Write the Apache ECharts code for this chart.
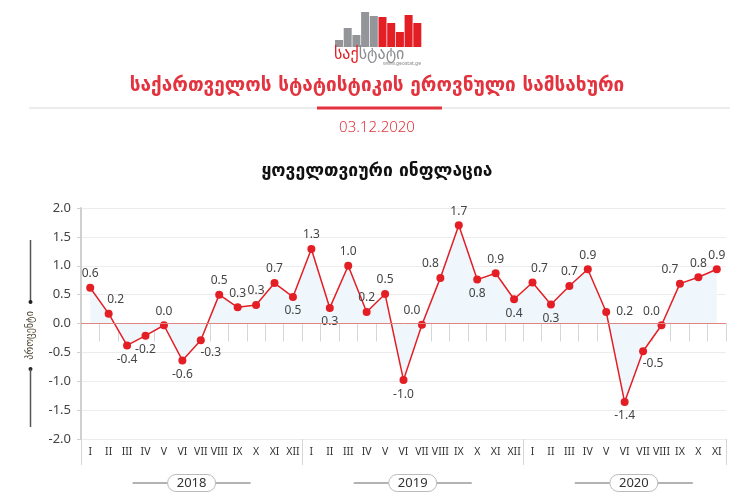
<!DOCTYPE html>
<html><head><meta charset="utf-8">
<script src="https://cdn.jsdelivr.net/npm/echarts@6/dist/echarts.min.js"></script>
<style>html,body{margin:0;padding:0;background:#fff}#c{width:753px;height:501px}</style>
</head><body><div id="c"></div>
<script>
// ---- data ----
const months = ['I','II','III','IV','V','VI','VII','VIII','IX','X','XI','XII',
                'I','II','III','IV','V','VI','VII','VIII','IX','X','XI','XII',
                'I','II','III','IV','V','VI','VII','VIII','IX','X','XI'];
const years = ['2018','2019','2020'];
const yearStart = [0, 12, 24];
const values = [0.62,0.17,-0.38,-0.21,-0.03,-0.64,-0.29,0.50,0.28,0.32,0.70,0.46,
                1.29,0.27,1.00,0.20,0.51,-0.98,-0.02,0.79,1.70,0.76,0.87,0.42,
                0.71,0.33,0.65,0.94,0.20,-1.36,-0.48,-0.03,0.69,0.80,0.94];
const labels = ['0.6','0.2','-0.4','-0.2','0.0','-0.6','-0.3','0.5','0.3','0.3','0.7','0.5',
                '1.3','0.3','1.0','0.2','0.5','-1.0','0.0','0.8','1.7','0.8','0.9','0.4',
                '0.7','0.3','0.7','0.9','0.2','-1.4','-0.5','0.0','0.7','0.8','0.9'];
const yTicks = [-2.0, 2.0, 0.5];
const labelPlace = ['t','tr','b','b','t','b','br','t','t','t','t','b',
                    't','b','t','t','t','b','tl','tl','t','b','t','b',
                    'tr','b','t','t','r','b','br','tl','tl','t','t'];

const RED = '#e31e24';
const GEO = '"DejaVu Sans", "Noto Sans", sans-serif';
const LAT = '"Noto Sans", "Open Sans", sans-serif';

function labelCfg(p){
  const base = {show:true, fontSize:12, color:'#444', fontFamily:LAT, distance:4};
  switch(p){
    case 't': return Object.assign(base,{position:'top'});
    case 'b': return Object.assign(base,{position:'bottom'});
    case 'tr': return Object.assign(base,{position:'top', offset:[7,0]});
    case 'tl': return Object.assign(base,{position:'top', offset:[-10,0]});
    case 'r': return Object.assign(base,{position:'right', distance:6});
    case 'br': return Object.assign(base,{position:'bottom', offset:[10,-2]});
  }
  return base;
}
const seriesData = values.map((v,i)=>({value:v, label:Object.assign(labelCfg(labelPlace[i]),{formatter:labels[i]})}));

// ---- static graphics ----
const logoBars = [
  {c:'#939598', t:40}, {c:'#939598', t:28}, {c:'#939598', t:35}, {c:'#939598', t:12}, {c:'#939598', t:16},
  {c:RED, t:17}, {c:RED, t:23}, {c:RED, t:32}, {c:RED, t:15}, {c:RED, t:23}
];
const staticGraphics = [];
logoBars.forEach((b,i)=>{
  staticGraphics.push({type:'rect', shape:{x:335+i*8.7, y:b.t, width:8, height:47-b.t}, style:{fill:b.c}, silent:true});
});
staticGraphics.push(
  {type:'text', x:334, y:55, style:{text:'{r|საქ}{g|სტატი}', rich:{r:{fill:RED,fontSize:16,fontFamily:GEO},g:{fill:'#8a8c8f',fontSize:16,fontFamily:GEO}}, verticalAlign:'middle'}},
  {type:'text', x:421, y:64, style:{text:'www.geostat.ge', fill:'#888', fontSize:5, fontFamily:LAT, align:'right', verticalAlign:'middle'}},
  {type:'text', x:377, y:86, style:{text:'საქართველოს სტატისტიკის ეროვნული სამსახური', fill:'#e2333f', fontSize:19, fontWeight:'bold', fontFamily:GEO, align:'center', verticalAlign:'middle'}},
  {type:'line', shape:{x1:29,y1:108,x2:730,y2:108}, style:{stroke:'#e6e6e6', lineWidth:1.5}},
  {type:'line', shape:{x1:317,y1:108,x2:442,y2:108}, style:{stroke:'#e2333f', lineWidth:3}},
  {type:'text', x:377, y:128, style:{text:'03.12.2020', fill:'#e2333f', fontSize:15, fontWeight:300, fontFamily:LAT, align:'center', verticalAlign:'middle'}},
  {type:'text', x:377, y:171, style:{text:'ყოველთვიური ინფლაცია', fill:'#111', fontSize:17.5, fontWeight:'bold', fontFamily:GEO, align:'center', verticalAlign:'middle'}},
  // y-axis name
  {type:'line', shape:{x1:30.5,y1:240,x2:30.5,y2:302}, style:{stroke:'#555', lineWidth:1.5}},
  {type:'circle', shape:{cx:30.5,cy:302,r:2}, style:{fill:'#222'}},
  {type:'circle', shape:{cx:30.5,cy:369,r:2}, style:{fill:'#222'}},
  {type:'line', shape:{x1:30.5,y1:369,x2:30.5,y2:427}, style:{stroke:'#555', lineWidth:1.5}},
  {type:'text', x:30.5, y:335.5, rotation:Math.PI/2, style:{text:'პროცენტი', fill:'#4a3f2a', fontSize:10, fontFamily:GEO, align:'center', verticalAlign:'middle'}}
);

const chart = echarts.init(document.getElementById('c'));
const option = {
  animation:false,
  backgroundColor:'#fff',
  grid:{left:81, right:27, top:208, bottom:62, containLabel:false},
  xAxis:[{
    type:'category', data:months, boundaryGap:true,
    axisLine:{show:true, lineStyle:{color:'#d0d0d0', width:1}},
    axisTick:{show:true, alignWithLabel:false, interval:0, length:18, lineStyle:{color:'#d6d6d6'}},
    axisLabel:{interval:0, fontSize:10.5, color:'#333', fontFamily:LAT, margin:8},
    splitLine:{show:false}
  },{
    type:'category', data:months, boundaryGap:true, position:'bottom',
    axisLine:{show:false},
    axisTick:{show:true, alignWithLabel:false, length:26, lineStyle:{color:'#d6d6d6'},
      interval:function(idx){ return yearStart.indexOf(idx) >= 0; }},
    axisLabel:{show:false}, splitLine:{show:false}
  }],
  yAxis:{
    type:'value', min:yTicks[0], max:yTicks[1], interval:yTicks[2],
    axisLine:{show:true, lineStyle:{color:'#d0d0d0', width:2}},
    axisTick:{show:true, length:4, lineStyle:{color:'#d0d0d0'}},
    axisLabel:{formatter:v=>v.toFixed(1), fontSize:13, color:'#444', fontFamily:LAT, margin:10},
    splitLine:{show:true, lineStyle:{color:'#ececec', width:1}}
  },
  series:[{
    type:'line', data:seriesData, xAxisIndex:0,
    symbol:'circle', symbolSize:8,
    itemStyle:{color:RED},
    lineStyle:{color:RED, width:1.5},
    areaStyle:{color:'#eff7fc', opacity:1, origin:0},
    z:3,
    markLine:{silent:true, symbol:'none', label:{show:false},
      lineStyle:{color:'#e08585', width:1, type:'solid'},
      data:[{yAxis:0}]}
  }],
  graphic:staticGraphics
};
chart.setOption(option);

// year labels positioned via the axis scale
const x0 = chart.convertToPixel({xAxisIndex:0}, 0);
const x1 = chart.convertToPixel({xAxisIndex:0}, 1);
const step = x1 - x0;
const yearG = [];
years.forEach((y,k)=>{
  const cx = chart.convertToPixel({xAxisIndex:0}, yearStart[k]) - step/2 + 6*step;
  const cy = 483;
  yearG.push(
    {type:'line', shape:{x1:cx-59,y1:cy,x2:cx-24,y2:cy}, style:{stroke:'#666', lineWidth:1}},
    {type:'line', shape:{x1:cx+24,y1:cy,x2:cx+59,y2:cy}, style:{stroke:'#666', lineWidth:1}},
    {type:'rect', shape:{x:cx-24,y:cy-8.5,width:48,height:17,r:8.5}, style:{fill:'#fff', stroke:'#bbb', lineWidth:1}},
    {type:'text', x:cx, y:cy, style:{text:y, fill:'#333', fontSize:13, fontFamily:LAT, align:'center', verticalAlign:'middle'}}
  );
});
chart.setOption({graphic: staticGraphics.concat(yearG)}, {replaceMerge:['graphic']});
</script></body></html>
